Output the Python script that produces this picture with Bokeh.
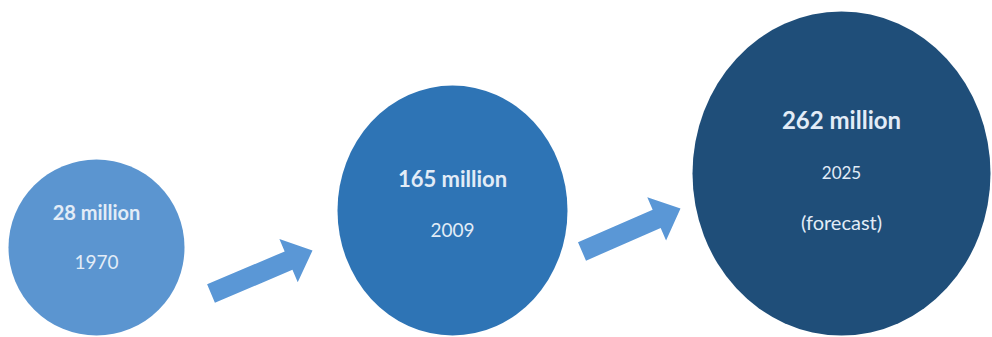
import numpy as np
from bokeh.plotting import figure
from bokeh.models import Range1d
from bokeh.core.properties import value
from bokeh.embed import file_html
from bokeh.resources import INLINE

# ---- data ----
values_label = ["28 million", "165 million", "262 million"]
years = ["1970", "2009", "2025"]
notes = ["", "", "(forecast)"]

# ---- layout (pixel space) ----
cx = [96, 452, 841]
cy = [247, 210, 173]
rx = [88, 115, 149]
ry = [88, 125, 162]
colors = ["#5b95d0", "#2e74b5", "#1f4e79"]
label_y = [211, 178, 119]
year_y = [261, 229, 172]
note_y = [None, None, 221]
label_size = ["20px", "22px", "24px"]
year_size = ["19px", "19px", "17px"]
note_size = "20px"

arrow_tail = [(210.5, 293), (581.5, 251)]
arrow_tip = [(312, 250), (680, 208)]
arrow_color = "#5a97d6"

W, H = 992, 337
p = figure(width=W, height=H, x_range=Range1d(0, W), y_range=Range1d(H, 0),
           output_backend="svg", toolbar_location=None, min_border=0)
p.axis.visible = False
p.grid.visible = False
p.outline_line_color = None
p.background_fill_color = "white"
p.border_fill_color = "white"

p.ellipse(x=cx, y=cy, width=[2 * r for r in rx], height=[2 * r for r in ry],
          fill_color=colors, line_color=None)


def arrow_poly(tail, tip, shaft_w=20, head_w=47, head_l=26):
    t = np.array(tail, float)
    h = np.array(tip, float)
    d = h - t
    L = np.hypot(*d)
    u = d / L
    n = np.array([-u[1], u[0]])
    base = h - u * head_l
    pts = [t + n * shaft_w / 2, base + n * shaft_w / 2, base + n * head_w / 2, h,
           base - n * head_w / 2, base - n * shaft_w / 2, t - n * shaft_w / 2]
    return [q[0] for q in pts], [q[1] for q in pts]


xs, ys = [], []
for a, b in zip(arrow_tail, arrow_tip):
    px, py = arrow_poly(a, b)
    xs.append(px)
    ys.append(py)
p.patches(xs=xs, ys=ys, fill_color=arrow_color, line_color=None)

txt_color = "#e2ecf7"
font = value("Lato")
for i in range(3):
    p.text(x=[cx[i]], y=[label_y[i]], text=[values_label[i]], text_align="center",
           text_baseline="middle", text_font=font, text_font_size=label_size[i],
           text_font_style="bold", text_color=txt_color)
    p.text(x=[cx[i]], y=[year_y[i]], text=[years[i]], text_align="center",
           text_baseline="middle", text_font=font, text_font_size=year_size[i],
           text_color=txt_color)
    if notes[i]:
        p.text(x=[cx[i]], y=[note_y[i]], text=[notes[i]], text_align="center",
               text_baseline="middle", text_font=font, text_font_size=note_size,
               text_color=txt_color)

open("out.html", "w").write(file_html(p, INLINE))
